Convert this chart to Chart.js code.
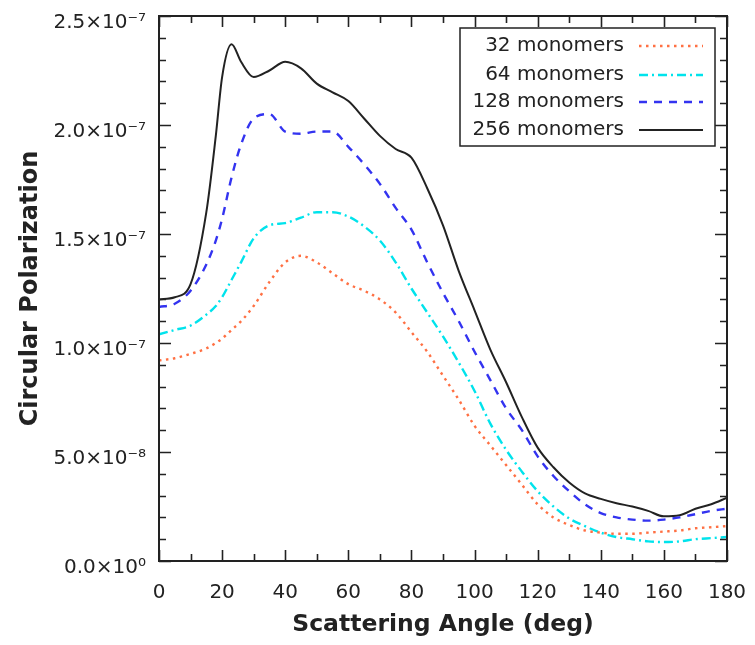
<!DOCTYPE html>
<html>
<head>
<meta charset="utf-8">
<script src="https://cdn.jsdelivr.net/npm/chart.js@4.4.0/dist/chart.umd.min.js"></script>
<style>
  html, body { margin: 0; padding: 0; background: #fff; }
</style>
</head>
<body>
<canvas id="polChart" width="755" height="645"></canvas>
<script>
// scattering angle (deg)
const angles = [0, 5, 10, 15, 18, 20, 23, 26, 30, 35, 40, 45, 50, 55, 60, 65, 70, 75, 80, 85, 90,
                95, 100, 105, 110, 115, 120, 125, 130, 135, 140, 145, 150, 155, 160, 165, 170, 175, 180];

// circular polarization, in units of 1e-7
const mono32  = [0.92, 0.93, 0.95, 0.975, 1.00, 1.02, 1.06, 1.10, 1.17, 1.28, 1.37, 1.40, 1.37, 1.32, 1.27, 1.24, 1.20, 1.14, 1.05, 0.96, 0.85,
                 0.74, 0.62, 0.53, 0.44, 0.35, 0.26, 0.20, 0.165, 0.14, 0.13, 0.125, 0.125, 0.13, 0.135, 0.14, 0.15, 0.155, 0.16];
const mono64  = [1.04, 1.06, 1.08, 1.13, 1.17, 1.21, 1.29, 1.37, 1.48, 1.54, 1.55, 1.575, 1.60, 1.60, 1.58, 1.535, 1.47, 1.37, 1.25, 1.14, 1.03,
                 0.91, 0.78, 0.63, 0.51, 0.41, 0.32, 0.25, 0.195, 0.16, 0.13, 0.11, 0.10, 0.09, 0.087, 0.09, 0.10, 0.105, 0.11];
const mono128 = [1.165, 1.18, 1.24, 1.36, 1.47, 1.57, 1.76, 1.91, 2.03, 2.05, 1.97, 1.96, 1.97, 1.97, 1.90, 1.82, 1.73, 1.62, 1.52, 1.37, 1.23,
                 1.10, 0.96, 0.83, 0.70, 0.60, 0.48, 0.39, 0.32, 0.26, 0.22, 0.20, 0.19, 0.185, 0.19, 0.20, 0.215, 0.23, 0.24];
const mono256 = [1.20, 1.21, 1.27, 1.60, 1.95, 2.22, 2.37, 2.29, 2.22, 2.25, 2.29, 2.26, 2.19, 2.15, 2.11, 2.03, 1.95, 1.89, 1.85, 1.71, 1.54,
                 1.33, 1.15, 0.97, 0.82, 0.66, 0.52, 0.43, 0.36, 0.31, 0.285, 0.265, 0.25, 0.23, 0.205, 0.21, 0.24, 0.26, 0.29];
const UNIT = 1e-7;

const seriesLabels = ["32 monomers", "64 monomers", "128 monomers", "256 monomers"];

const xTickValues = [0, 20, 40, 60, 80, 100, 120, 140, 160, 180];
const yTickValues = [0, 5e-8, 1e-7, 1.5e-7, 2e-7, 2.5e-7];
const yTickLabels = ["0.0×10⁰", "5.0×10⁻⁸", "1.0×10⁻⁷", "1.5×10⁻⁷", "2.0×10⁻⁷", "2.5×10⁻⁷"];

const toPoints = (vals) => vals.map((v, i) => ({ x: angles[i], y: v * UNIT }));

const styles = [
    { color: "#ff7043", dash: [2.5, 4.5], width: 2.4 },   // dotted
    { color: "#00e3ec", dash: [9, 4, 2, 4], width: 2.4 }, // dash-dot
    { color: "#3333f0", dash: [8, 7], width: 2.4 },       // dashed
    { color: "#222222", dash: [], width: 2 }              // solid
];
const allSeries = [mono32, mono64, mono128, mono256];

const FONT = "'DejaVu Sans', sans-serif";
const INK = "#222";

// frame, inward ticks and the boxed legend
const frameAndLegend = {
    id: "frameAndLegend",
    afterDatasetsDraw(chart) {
        const { ctx, chartArea: a, scales: { x, y } } = chart;
        ctx.save();
        ctx.strokeStyle = INK;
        ctx.lineWidth = 2;
        ctx.strokeRect(a.left, a.top, a.right - a.left, a.bottom - a.top);

        ctx.beginPath();
        for (let v = x.min; v <= x.max + 1e-6; v += 10) {
            const px = Math.round(x.getPixelForValue(v)) + 0.5;
            const len = v % 20 === 0 ? 11 : 7;
            ctx.moveTo(px, a.bottom); ctx.lineTo(px, a.bottom - len);
            ctx.moveTo(px, a.top); ctx.lineTo(px, a.top + len);
        }
        for (let i = 0; i <= 25; i++) {
            const py = Math.round(y.getPixelForValue(i * 1e-8)) + 0.5;
            const len = i % 5 === 0 ? 12 : 7;
            ctx.moveTo(a.left, py); ctx.lineTo(a.left + len, py);
            ctx.moveTo(a.right, py); ctx.lineTo(a.right - len, py);
        }
        ctx.lineWidth = 1.6;
        ctx.stroke();

        // legend box
        const bx = a.right - 267, by = a.top + 12, bw = 255, bh = 118;
        ctx.fillStyle = "#fff";
        ctx.fillRect(bx, by, bw, bh);
        ctx.lineWidth = 1.5;
        ctx.strokeStyle = INK;
        ctx.strokeRect(bx, by, bw, bh);

        ctx.font = "20px " + FONT;
        ctx.textAlign = "right";
        ctx.textBaseline = "middle";
        const rows = [18, 47, 74, 102];
        chart.data.datasets.forEach((ds, i) => {
            const ry = by + rows[i];
            ctx.fillStyle = INK;
            ctx.fillText(ds.label, bx + 164, ry);
            ctx.beginPath();
            ctx.setLineDash(ds.borderDash || []);
            ctx.strokeStyle = ds.borderColor;
            ctx.lineWidth = ds.borderWidth;
            ctx.moveTo(bx + 179, ry);
            ctx.lineTo(bx + 243, ry);
            ctx.stroke();
            ctx.setLineDash([]);
        });
        ctx.restore();
    }
};

new Chart(document.getElementById("polChart"), {
    type: "line",
    data: {
        datasets: allSeries.map((vals, i) => ({
            label: seriesLabels[i],
            data: toPoints(vals),
            borderColor: styles[i].color,
            borderDash: styles[i].dash,
            borderWidth: styles[i].width,
            pointRadius: 0,
            fill: false,
            cubicInterpolationMode: "monotone"
        }))
    },
    options: {
        responsive: false,
        animation: false,
        devicePixelRatio: 1,
        layout: { padding: { top: 16, right: 28, left: 0, bottom: 0 } },
        plugins: {
            legend: { display: false },
            tooltip: { enabled: false }
        },
        scales: {
            x: {
                type: "linear",
                min: 0,
                max: 180,
                afterBuildTicks: (s) => { s.ticks = xTickValues.map(v => ({ value: v })); },
                afterFit: (s) => { s.height = 84; s.paddingLeft = 0; s.paddingRight = 0; },
                grid: { display: false, drawTicks: false },
                border: { display: false },
                ticks: {
                    padding: 20,
                    maxRotation: 0,
                    color: INK,
                    font: { family: FONT, size: 20 }
                },
                title: {
                    display: true,
                    text: "Scattering Angle (deg)",
                    color: INK,
                    font: { family: FONT, size: 23.5, weight: "bold" },
                    padding: { top: 0, bottom: 6 }
                }
            },
            y: {
                type: "linear",
                min: 0,
                max: 2.5e-7,
                afterBuildTicks: (s) => { s.ticks = yTickValues.map(v => ({ value: v })); },
                afterFit: (s) => { s.width = 159; s.paddingTop = 0; s.paddingBottom = 0; },
                grid: { display: false, drawTicks: false },
                border: { display: false },
                ticks: {
                    padding: 13,
                    labelOffset: 7,
                    color: INK,
                    font: { family: FONT, size: 20 },
                    callback: (value, index) => yTickLabels[index]
                },
                title: {
                    display: true,
                    text: "Circular Polarization",
                    color: INK,
                    font: { family: FONT, size: 24, weight: "bold" },
                    padding: { top: 16, bottom: 0 }
                }
            }
        }
    },
    plugins: [frameAndLegend]
});
</script>
</body>
</html>
